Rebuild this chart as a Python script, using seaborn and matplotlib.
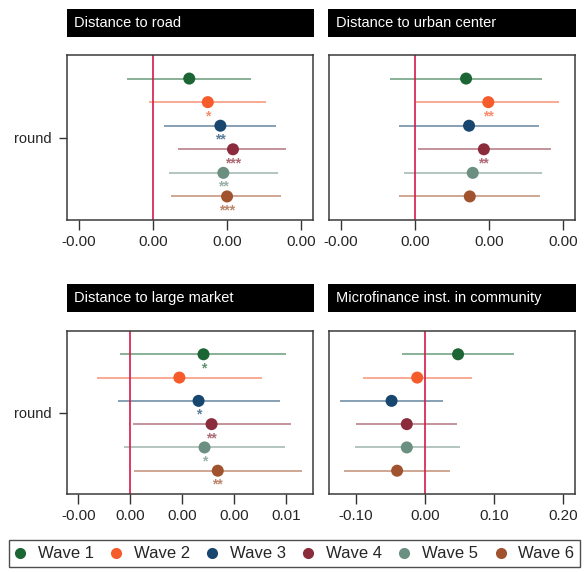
import numpy as np
import pandas as pd
import matplotlib
matplotlib.use("Agg")
import matplotlib.pyplot as plt
import seaborn as sns
from matplotlib.lines import Line2D
from matplotlib.colors import to_rgba

# ---------------- data ----------------
waves = ["Wave 1", "Wave 2", "Wave 3", "Wave 4", "Wave 5", "Wave 6"]
wave_colors = ["#1b6634", "#f65b2b", "#17466e", "#8a2c3c", "#6b8f80", "#a0532e"]

panel_titles = ["Distance to road", "Distance to urban center",
                "Distance to large market", "Microfinance inst. in community"]

road_coef = [0.00049, 0.00074, 0.00091, 0.00108, 0.00095, 0.00100]
road_lo = [-0.00035, -0.00006, 0.00015, 0.00034, 0.00021, 0.00025]
road_hi = [0.00132, 0.00153, 0.00166, 0.00180, 0.00169, 0.00173]
road_stars = ["", "*", "**", "***", "**", "***"]

urban_coef = [0.00069, 0.00099, 0.00073, 0.00093, 0.00078, 0.00074]
urban_lo = [-0.00034, 0.00001, -0.00021, 0.00004, -0.00015, -0.00021]
urban_hi = [0.00171, 0.00195, 0.00167, 0.00183, 0.00171, 0.00169]
urban_stars = ["", "**", "", "**", "", ""]

market_coef = [0.00282, 0.00189, 0.00263, 0.00313, 0.00286, 0.00337]
market_lo = [-0.00039, -0.00130, -0.00048, 0.00009, -0.00026, 0.00014]
market_hi = [0.00601, 0.00508, 0.00578, 0.00618, 0.00597, 0.00660]
market_stars = ["*", "", "*", "**", "*", "**"]

mfi_coef = [0.048, -0.011, -0.048, -0.026, -0.026, -0.040]
mfi_lo = [-0.033, -0.089, -0.122, -0.099, -0.101, -0.117]
mfi_hi = [0.129, 0.068, 0.026, 0.047, 0.051, 0.037]
mfi_stars = ["", "", "", "", "", ""]

x_ticks_small = [-0.001, 0.0, 0.001, 0.002]
x_ticks_market = [-0.002, 0.0, 0.002, 0.004, 0.006]
x_ticks_mfi = [-0.1, 0.0, 0.1, 0.2]
y_label = "round"

# ---------------- style ----------------
sns.set_theme(style="white")
plt.rcParams["font.family"] = ["Liberation Sans", "DejaVu Sans"]

W, H = 586, 572
fig = plt.figure(figsize=(W / 100, H / 100), dpi=100)

def fx(px):
    return px / W

def fy(py):
    return 1 - py / H

panels = [
    dict(title=panel_titles[0], coef=road_coef, lo=road_lo, hi=road_hi, stars=road_stars,
         ticks=x_ticks_small, xlim=(-0.00116, 0.00216), box=(67, 55, 313, 220),
         bar=(66.7, 9.3, 314, 36.7), ylab=True),
    dict(title=panel_titles[1], coef=urban_coef, lo=urban_lo, hi=urban_hi, stars=urban_stars,
         ticks=x_ticks_small, xlim=(-0.00116, 0.00216), box=(329, 55, 575, 220),
         bar=(328.3, 9.3, 575.7, 36.7), ylab=False),
    dict(title=panel_titles[2], coef=market_coef, lo=market_lo, hi=market_hi, stars=market_stars,
         ticks=x_ticks_market, xlim=(-0.00244, 0.00704), box=(67, 331, 313, 494),
         bar=(66.7, 284, 314, 311.7), ylab=True),
    dict(title=panel_titles[3], coef=mfi_coef, lo=mfi_lo, hi=mfi_hi, stars=mfi_stars,
         ticks=x_ticks_mfi, xlim=(-0.1383, 0.2168), box=(329, 331, 575, 494),
         bar=(328.3, 284, 575.7, 311.7), ylab=False),
]

positions = [i - 2.5 for i in range(len(waves))]
palette = dict(zip(waves, wave_colors))

for p in panels:
    x0, y0, x1, y1 = p["box"]
    ax = fig.add_axes([fx(x0), fy(y1), fx(x1) - fx(x0), fy(y0) - fy(y1)])
    df = pd.DataFrame({"wave": waves, "coef": p["coef"], "lo": p["lo"],
                       "hi": p["hi"], "pos": positions, "stars": p["stars"]})
    ci_cols = [to_rgba(c, 0.6) for c in wave_colors]
    ax.hlines(df["pos"], df["lo"], df["hi"], colors=ci_cols, linewidth=1.2, zorder=2)
    ax.axvline(0, color="#d41a4c", linewidth=1.2, zorder=2.5)
    sns.scatterplot(data=df, x="coef", y="pos", hue="wave", palette=palette,
                    s=75, edgecolor="none", legend=False, ax=ax, zorder=3)
    for _, r in df.iterrows():
        if r["stars"]:
            ax.annotate(r["stars"], (r["coef"], r["pos"]), xytext=(0, -18),
                        textcoords="offset pixels", ha="center", va="baseline",
                        fontsize=10, fontweight="bold",
                        color=to_rgba(palette[r["wave"]], 0.7), zorder=4)
    ax.set_xlim(*p["xlim"])
    ax.set_ylim(3.5, -3.5)
    ax.set_xticks(p["ticks"])
    ax.set_xticklabels([f"{t:.2f}" for t in p["ticks"]], fontsize=11)
    if p["ylab"]:
        ax.set_yticks([0])
        ax.set_yticklabels([y_label], fontsize=10.5)
        ax.tick_params(axis="y", length=6, width=1, color="#333333", pad=5, left=True)
    else:
        ax.set_yticks([])
    ax.tick_params(axis="x", length=7, width=1, color="#333333", pad=4, bottom=True)
    ax.set_xlabel("")
    ax.set_ylabel("")
    for s in ax.spines.values():
        s.set_color("#3a3a3a")
        s.set_linewidth(1.1)
    # title bar
    bx0, by0, bx1, by1 = p["bar"]
    bw = bx1 - bx0
    bar = fig.add_axes([fx(bx0), fy(by1), fx(bx1) - fx(bx0), fy(by0) - fy(by1)])
    bar.set_facecolor("black")
    bar.set_xticks([])
    bar.set_yticks([])
    for s in bar.spines.values():
        s.set_visible(False)
    bar.text(7.5 / bw, 0.5, p["title"], color="white",
             fontsize=10.5, ha="left", va="center", transform=bar.transAxes)

handles = [Line2D([0], [0], marker="o", linestyle="", markersize=8,
                  markerfacecolor=c, markeredgecolor="none", label=w)
           for w, c in zip(waves, wave_colors)]
leg = fig.legend(handles=handles, loc="upper left", ncol=6,
                 bbox_to_anchor=(fx(9), fy(541), fx(580) - fx(9), 0.001),
                 mode="expand", frameon=True, fontsize=12, handletextpad=0.75,
                 borderaxespad=0, borderpad=0.36, handlelength=0.6, fancybox=False)
leg.get_frame().set_edgecolor("#222222")
leg.get_frame().set_linewidth(1.0)

fig.savefig("out.png", dpi=100)
